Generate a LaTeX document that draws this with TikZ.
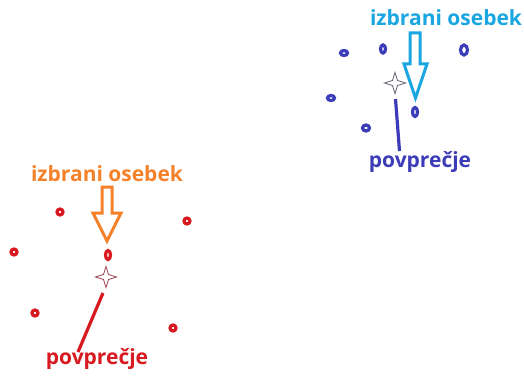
\documentclass[tikz,border=0pt]{standalone}
\usepackage{fontspec}
\setmainfont{Open Sans}
\newfontfamily\lblfont{Open Sans}
\usetikzlibrary{shapes.geometric,calc}
\definecolor{cblue}{HTML}{3C3CB8}
\definecolor{clblue}{HTML}{1AA6E0}
\definecolor{cred}{HTML}{D71920}
\definecolor{corange}{HTML}{F5822A}
\definecolor{cstar}{HTML}{606070}
\definecolor{cstarr}{HTML}{9A4050}
\begin{document}
\begin{tikzpicture}[x=1pt,y=-1pt,
  ptnode/.style={ellipse,draw=#1,line width=3.2pt,inner sep=0pt},
  lbl/.style={font=\lblfont\bfseries\fontsize{21}{24}\selectfont,text=#1,inner sep=0pt,anchor=base},
  hollow/.style={draw=#1,line width=3pt,fill=white,line join=miter},
  starline/.style={draw=#1,line width=0.8pt,fill=white},
  mline/.style={draw=#1,line width=3.2pt}]
\useasboundingbox (0,0) rectangle (524,377);
% ---- top-right cluster (blue)
\foreach \n/\x/\y/\w/\h in {b1/344/53/7/5, b2/383/49/5/8, b3/464/50/7/10, b4/331/98/7/5, b5/366/128/7/6, b6/415/112/5/9}
  \node[ptnode=cblue,minimum width=\w pt,minimum height=\h pt] (\n) at (\x,\y) {};
\coordinate (sb) at (395,83);
\draw[starline=cstar] ($(sb)+(0,-10.5)$) -- ($(sb)+(2.5,-2.5)$) -- ($(sb)+(10.5,0)$) -- ($(sb)+(2.5,2.5)$) -- ($(sb)+(0,10.5)$) -- ($(sb)+(-2.5,2.5)$) -- ($(sb)+(-10.5,0)$) -- ($(sb)+(-2.5,-2.5)$) -- cycle;
\node[lbl=clblue] (ib) at (446,26) {izbrani osebek};
\draw[hollow=clblue] (410,33) -- (420,33) -- (420,64) -- (427,64) -- (415.5,98) -- (404,64) -- (410,64) -- cycle;
\node[lbl=cblue] (pb) at (420,167) {povprečje};
\draw[mline=cblue] (395.5,99) -- (399.5,151);
% ---- bottom-left cluster (red)
\foreach \n/\x/\y/\w/\h in {r1/60/212/6/6, r2/187/221/6/6, r3/14/252/6/6, r4/35/313/6/6, r5/173/328/6/6, r6/108/255/5/9}
  \node[ptnode=cred,minimum width=\w pt,minimum height=\h pt] (\n) at (\x,\y) {};
\coordinate (sr) at (106,277);
\draw[starline=cstarr] ($(sr)+(0,-10.5)$) -- ($(sr)+(2.5,-2.5)$) -- ($(sr)+(10.5,0)$) -- ($(sr)+(2.5,2.5)$) -- ($(sr)+(0,10.5)$) -- ($(sr)+(-2.5,2.5)$) -- ($(sr)+(-10.5,0)$) -- ($(sr)+(-2.5,-2.5)$) -- cycle;
\node[lbl=corange] (ir) at (107,181) {izbrani osebek};
\draw[hollow=corange] (102,187) -- (112,187) -- (112,213) -- (121,213) -- (107,241) -- (93,213) -- (102,213) -- cycle;
\node[lbl=cred] (pr) at (97,364) {povprečje};
\draw[mline=cred] (103,293) -- (78,352);
\end{tikzpicture}
\end{document}
